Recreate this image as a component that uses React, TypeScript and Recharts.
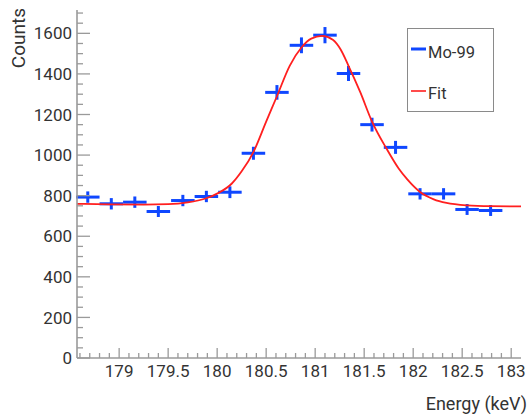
import React from 'react';
import { ComposedChart, Scatter, Line, XAxis, YAxis, ErrorBar, Legend } from 'recharts';

// Measured histogram (bin centres in keV, counts, sqrt(N)-like errors)
const energy = [178.68, 178.92, 179.16, 179.40, 179.65, 179.89, 180.13, 180.37, 180.61, 180.86, 181.10, 181.34, 181.58, 181.82, 182.07, 182.31, 182.55, 182.79];
const counts = [793, 760, 768, 722, 776, 796, 817, 1009, 1309, 1541, 1591, 1402, 1150, 1038, 809, 809, 732, 727];
const countErr = [28, 28, 28, 27, 28, 28, 29, 32, 36, 39, 40, 37, 34, 32, 28, 28, 27, 27];
const binHalf = [0.12, 0.12, 0.12, 0.12, 0.12, 0.12, 0.12, 0.12, 0.12, 0.12, 0.12, 0.12, 0.12, 0.12, 0.12, 0.12, 0.12, 0.12];

// Fit curve
const fitEnergy = [178.57, 178.90, 179.25, 179.50, 179.70, 179.88, 180.02, 180.15, 180.25, 180.37, 180.50, 180.61, 180.74, 180.86, 180.96, 181.07, 181.18, 181.26, 181.34, 181.46, 181.58, 181.73, 181.85, 181.94, 182.07, 182.21, 182.34, 182.55, 182.79, 183.10];
const fitCounts = [760, 757, 756, 758, 767, 786, 815, 860, 920, 1015, 1165, 1290, 1440, 1530, 1574, 1587, 1568, 1520, 1440, 1310, 1165, 1030, 935, 880, 818, 782, 764, 752, 748, 747];

// Axis ticks
const xMajorTicks = [179, 179.5, 180, 180.5, 181, 181.5, 182, 182.5, 183];
const xTickLabels = ['179', '179.5', '180', '180.5', '181', '181.5', '182', '182.5', '183'];
const yMajorTicks = [0, 200, 400, 600, 800, 1000, 1200, 1400, 1600];
const yTickLabels = ['0', '200', '400', '600', '800', '1000', '1200', '1400', '1600'];
const X_DOMAIN: [number, number] = [178.57, 183.1];
const Y_DOMAIN: [number, number] = [0, 1715];

const xAllTicks: number[] = [];
for (let i = 1786; i <= 1830; i++) xAllTicks.push(i / 10);
const yAllTicks: number[] = [];
for (let v = 0; v <= 1700; v += 50) yAllTicks.push(v);

const points = energy.map((x, i) => ({ x, y: counts[i], ex: binHalf[i], ey: countErr[i] }));
const fit = fitEnergy.map((x, i) => ({ x, y: fitCounts[i] }));

const BLUE = '#0f47ff';
const RED = '#ff1f1f';
const AXIS = '#9a9a9a';
const TXT = '#333333';
const FONT = 'Roboto, "Noto Sans", Arial, sans-serif';
const X_MARGIN = 7;
const Y_MARGIN = 5;

const xMajorIdx = (v: number) => xMajorTicks.findIndex((t) => Math.abs(t - v) < 1e-6);
const yMajorIdx = (v: number) => yMajorTicks.findIndex((t) => Math.abs(t - v) < 1e-6);

const BottomTick = (p: any) => {
  const v = p.payload.value;
  const idx = xMajorIdx(v);
  const axisY = p.y - X_MARGIN;
  return (
    <g>
      <line x1={p.x} x2={p.x} y1={axisY} y2={axisY - (idx >= 0 ? 10 : 5)} stroke={AXIS} strokeWidth={1.3} />
      {idx >= 0 && (
        <text x={p.x} y={p.y} dy="0.71em" textAnchor="middle" fontSize={17} fill={TXT} fontFamily={FONT}>
          {xTickLabels[idx]}
        </text>
      )}
    </g>
  );
};

const TopTick = (p: any) => {
  const v = p.payload.value;
  const idx = xMajorIdx(v);
  const axisY = p.y;
  return <line x1={p.x} x2={p.x} y1={axisY} y2={axisY + (idx >= 0 ? 9 : 5)} stroke={AXIS} strokeWidth={1.3} />;
};

const LeftTick = (p: any) => {
  const v = p.payload.value;
  const idx = yMajorIdx(v);
  const axisX = p.x + Y_MARGIN;
  return (
    <g>
      <line x1={axisX} x2={axisX + (idx >= 0 ? 13 : 6)} y1={p.y} y2={p.y} stroke={AXIS} strokeWidth={1.3} />
      {idx >= 0 && (
        <text x={p.x} y={p.y} dy="0.36em" textAnchor="end" fontSize={17} fill={TXT} fontFamily={FONT}>
          {yTickLabels[idx]}
        </text>
      )}
    </g>
  );
};

const RightTick = (p: any) => {
  const v = p.payload.value;
  const idx = yMajorIdx(v);
  const axisX = p.x;
  return <line x1={axisX} x2={axisX - (idx >= 0 ? 13 : 6)} y1={p.y} y2={p.y} stroke={AXIS} strokeWidth={1.3} />;
};

const LegendBox = () => (
  <div
    style={{
      width: 87,
      height: 84,
      border: '1px solid #8a8a8a',
      boxSizing: 'border-box',
      background: '#fff',
      position: 'relative',
    }}
  >
    <svg width={85} height={82} style={{ position: 'absolute', left: 0, top: 0 }}>
      <line x1={3} x2={18} y1={20} y2={20} stroke={BLUE} strokeWidth={3} />
      <text x={20} y={23} dy="0.36em" fontSize={16.5} fill={TXT} fontFamily={FONT}>Mo-99</text>
      <line x1={3} x2={18} y1={62} y2={62} stroke={RED} strokeWidth={1.6} />
      <text x={20} y={64} dy="0.36em" fontSize={16.5} fill={TXT} fontFamily={FONT}>Fit</text>
    </svg>
  </div>
);

export default function App() {
  return (
    <div style={{ position: 'absolute', left: 0, top: 0, width: 530, height: 418, background: '#fff' }}>
      <ComposedChart width={530} height={418} margin={{ top: 10, right: 9, left: 0, bottom: 0 }}>
        <XAxis
          type="number"
          dataKey="x"
          domain={X_DOMAIN}
          ticks={xAllTicks}
          interval={0}
          allowDataOverflow
          height={60}
          tickSize={0}
          tickMargin={X_MARGIN}
          tickLine={false}
          axisLine={{ stroke: AXIS, strokeWidth: 1.6 }}
          tick={BottomTick}
        />
        <XAxis
          xAxisId="top"
          orientation="top"
          type="number"
          dataKey="x"
          domain={X_DOMAIN}
          ticks={xAllTicks}
          interval={0}
          allowDataOverflow
          height={0}
          tickSize={0}
          tickMargin={0}
          tickLine={false}
          axisLine={{ stroke: AXIS, strokeWidth: 1.6 }}
          tick={TopTick}
        />
        <YAxis
          type="number"
          dataKey="y"
          domain={Y_DOMAIN}
          ticks={yAllTicks}
          interval={0}
          allowDataOverflow
          width={77}
          tickSize={0}
          tickMargin={Y_MARGIN}
          tickLine={false}
          axisLine={{ stroke: AXIS, strokeWidth: 1.6 }}
          tick={LeftTick}
        />
        <YAxis
          yAxisId="right"
          orientation="right"
          type="number"
          dataKey="y"
          domain={Y_DOMAIN}
          ticks={yAllTicks}
          interval={0}
          allowDataOverflow
          width={0}
          tickSize={0}
          tickMargin={0}
          tickLine={false}
          axisLine={{ stroke: AXIS, strokeWidth: 1.6 }}
          tick={RightTick}
        />
        <Scatter data={points} dataKey="y" isAnimationActive={false} shape={() => <g />}>
          <ErrorBar dataKey="ex" direction="x" width={0} stroke={BLUE} strokeWidth={3} isAnimationActive={false} />
          <ErrorBar dataKey="ey" direction="y" width={0} stroke={BLUE} strokeWidth={3} isAnimationActive={false} />
        </Scatter>
        <Line
          data={fit}
          dataKey="y"
          type="monotone"
          stroke={RED}
          strokeWidth={1.8}
          dot={false}
          activeDot={false}
          isAnimationActive={false}
        />
        <Legend
          layout="vertical"
          align="center"
          verticalAlign="middle"
          content={() => <LegendBox />}
          wrapperStyle={{ left: 407, top: 28, width: 87, height: 84 }}
        />
        <text x={25} y={8} transform="rotate(-90 25 8)" textAnchor="end" fontSize={19} fill={TXT} fontFamily={FONT}>
          Counts
        </text>
        <text x={527} y={410} textAnchor="end" fontSize={18} fill={TXT} fontFamily={FONT}>
          Energy (keV)
        </text>
      </ComposedChart>
    </div>
  );
}
